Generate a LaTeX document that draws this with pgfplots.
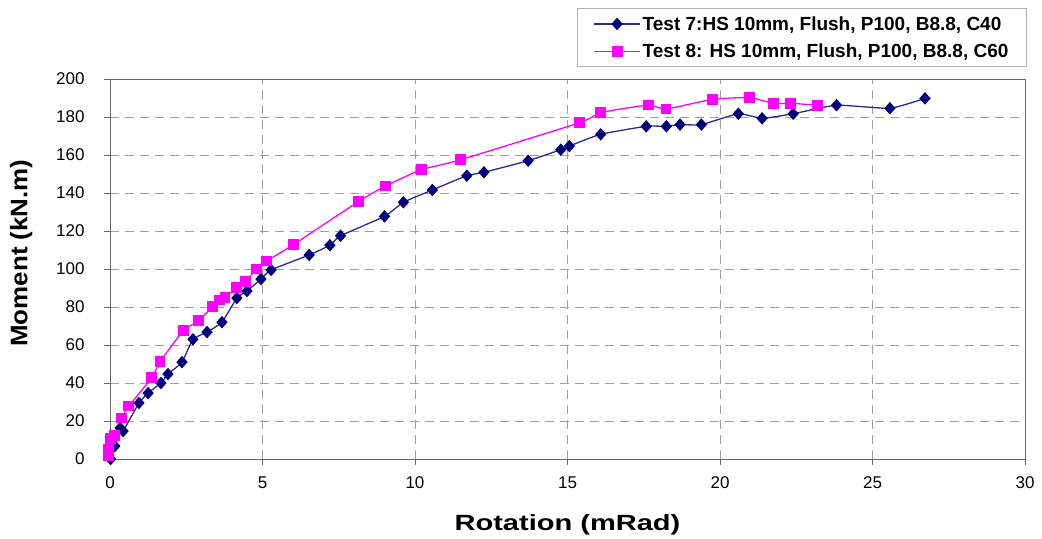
\documentclass[border=0pt]{standalone}
\usepackage{fontspec}
\setmainfont{Liberation Sans}
\usepackage{graphicx}
\usepackage{pgfplots}
\pgfplotsset{compat=1.18}
\definecolor{navyb}{RGB}{0,0,120}
\definecolor{navyl}{RGB}{40,40,150}
\definecolor{mag}{RGB}{255,0,255}
\begin{document}
\begin{tikzpicture}
\begin{axis}[
  width=915bp, height=380bp, scale only axis,
  xmin=0, xmax=30, ymin=0, ymax=200,
  xtick={0,5,...,30}, ytick={0,20,...,200},
  grid=major, major grid style={gray!75, line width=0.8bp, dash pattern=on 9bp off 6bp},
  axis line style={gray!80!black, line width=0.8bp},
  tick style={gray!80!black, line width=0.8bp},
  tick align=outside, xtick pos=bottom, ytick pos=left,
  major tick length=6bp,
  /pgf/number format/assume math mode=true,
  ticklabel style={font=\fontsize{17bp}{20bp}\selectfont},
  yticklabel style={xshift=-16bp},
  xticklabel style={yshift=-8bp},
  xlabel={\scalebox{1.32}[1]{Rotation (mRad)}}, ylabel={\scalebox{1.08}[1]{Moment (kN.m)}},
  every axis x label/.style={at={([yshift=-52bp]axis description cs:0.5,0)}, anchor=north, font=\bfseries\fontsize{22bp}{26bp}\selectfont},
  every axis y label/.style={at={([xshift=-74bp,yshift=16bp]axis description cs:0,0.5)}, rotate=90, anchor=south, font=\bfseries\fontsize{24bp}{28bp}\selectfont},
  legend style={at={(axis description cs:1.002,1.187)}, anchor=north east,
    draw=gray!60, line width=0.8bp, font=\bfseries\fontsize{19bp}{22bp}\selectfont,
    row sep=8bp, inner xsep=16bp, inner ysep=6bp},
  legend cell align=left,
  legend image code/.code={\draw[#1] (0bp,0bp) -- (46bp,0bp); \draw[#1, only marks] plot coordinates {(23bp,0bp)};},
  clip=false,
]
\addplot[navyl, line width=1.3bp, smooth, tension=0.3, mark=diamond*, mark size=5.3bp, mark options={fill=navyb, draw=navyb, solid, xscale=1.2}] coordinates {
(0.02,0) (0.16,6.8) (0.33,16.3) (0.43,14.7) (0.95,29.5) (1.25,34.7) (1.67,40) (1.9,44.7)
(2.36,51) (2.72,63) (3.18,66.8) (3.67,72) (4.16,84.7) (4.49,88.4) (4.95,94.7) (5.28,99.5)
(6.53,107.4) (7.21,112.5) (7.56,117.5) (9.0,127.7) (9.62,135.1) (10.57,141.6) (11.7,149.1)
(12.26,150.9) (13.71,157) (14.78,162.8) (15.06,164.7) (16.09,170.9) (17.58,175.1) (18.24,175.1)
(18.69,176) (19.39,176) (20.6,181.7) (21.38,179.3) (22.4,181.7) (23.82,186.2) (25.57,184.6) (26.72,189.8)
};
\addlegendentry{Test 7:HS 10mm, Flush, P100, B8.8, C40}
\addplot[mag, line width=1.3bp, smooth, tension=0.3, mark=square*, mark size=4.8bp, mark options={fill=mag, draw=mag, solid}] coordinates {
(-0.05,2) (-0.05,5) (0.02,11) (0.16,12.6) (0.38,21.6) (0.62,27.9) (1.37,42.8) (1.64,51.2)
(2.4,67.4) (2.9,72.8) (3.37,80.2) (3.6,83.7) (3.77,85.1) (4.15,90.2) (4.43,93.3) (4.81,100)
(5.14,104.2) (6.03,113) (8.16,135.6) (9.03,143.7) (10.22,152.3) (11.48,157.4) (15.4,177)
(16.09,182.3) (17.65,186.3) (18.23,184.2) (19.76,189.3) (20.96,190.2) (21.75,187.2) (22.32,187.2) (23.19,186.2)
};
\addlegendentry{Test 8: HS 10mm, Flush, P100, B8.8, C60}
\end{axis}
\path ([xshift=-110bp,yshift=-76bp]current axis.south west) rectangle ([xshift=17bp,yshift=79bp]current axis.north east);
\end{tikzpicture}
\end{document}
